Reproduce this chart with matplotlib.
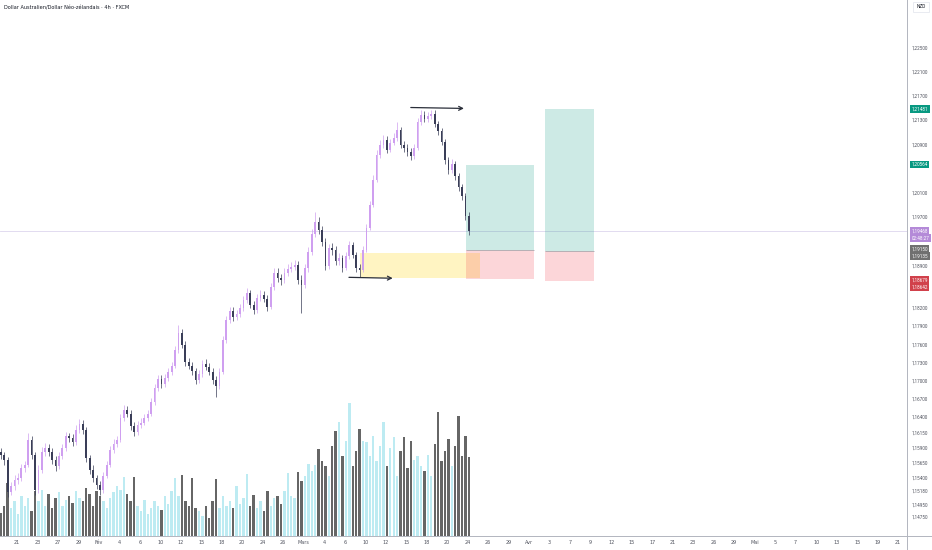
import numpy as np
import matplotlib.pyplot as plt
import matplotlib.transforms as mtransforms
from matplotlib.patches import Rectangle

# AUD/NZD 4h chart (TradingView style), candles (8h steps)
title = "Dollar Australien/Dollar Néo-zélandais · 4h · FXCM"

first_open = 1.15820
closes = [
    1.15773, 1.15690, 1.15162, 1.15261, 1.15360, 1.15393, 1.15558, 1.15608, 1.16020, 1.15773,
    1.15195, 1.15525, 1.15822, 1.15888, 1.15822, 1.15690, 1.15591, 1.15756, 1.15888, 1.16086,
    1.16053, 1.15987, 1.16185, 1.16284, 1.16185, 1.15723, 1.15525, 1.15393, 1.15278, 1.15195,
    1.15426, 1.15608, 1.15855, 1.15954, 1.16020, 1.16383, 1.16515, 1.16449, 1.16251, 1.16152,
    1.16268, 1.16301, 1.16383, 1.16449, 1.16647, 1.16878, 1.17027, 1.16944, 1.17043, 1.17142,
    1.17241, 1.17505, 1.17786, 1.17588, 1.17307, 1.17241, 1.17159, 1.17010, 1.17109, 1.17274,
    1.17225, 1.17142, 1.17010, 1.16911, 1.17142, 1.17670, 1.18000, 1.18149, 1.18050, 1.18099,
    1.18198, 1.18330, 1.18446, 1.18248, 1.18165, 1.18363, 1.18413, 1.18347, 1.18215, 1.18545,
    1.18776, 1.18693, 1.18660, 1.18776, 1.18842, 1.18875, 1.18908, 1.18660, 1.18578, 1.18858,
    1.19122, 1.19419, 1.19617, 1.19485, 1.19287, 1.18891, 1.19188, 1.19155, 1.18974, 1.19023,
    1.18858, 1.19056, 1.19238, 1.19073, 1.18858, 1.18825, 1.19155, 1.19518, 1.19898, 1.20310,
    1.20723, 1.20888, 1.20970, 1.20805, 1.20920, 1.21003, 1.21135, 1.20888, 1.20838, 1.20772,
    1.20706, 1.20838, 1.21267, 1.21383, 1.21317, 1.21366, 1.21399, 1.21234, 1.21119, 1.20937,
    1.20640, 1.20475, 1.20574, 1.20376, 1.20195, 1.20046, 1.19716, 1.19468,
]
highs = [
    1.1588, 1.1583, 1.1574, 1.1533, 1.1544, 1.1548, 1.1563, 1.1568, 1.1614, 1.1609,
    1.1582, 1.1560, 1.1590, 1.1597, 1.1596, 1.1588, 1.1575, 1.1582, 1.1595, 1.1616,
    1.1614, 1.1612, 1.1626, 1.1637, 1.1635, 1.1624, 1.1578, 1.1560, 1.1545, 1.1534,
    1.1549, 1.1567, 1.1592, 1.1603, 1.1609, 1.1645, 1.1660, 1.1658, 1.1651, 1.1631,
    1.1634, 1.1638, 1.1645, 1.1652, 1.1671, 1.1695, 1.1710, 1.1709, 1.1711, 1.1721,
    1.1731, 1.1757, 1.1792, 1.1785, 1.1765, 1.1738, 1.1730, 1.1721, 1.1717, 1.1734,
    1.1735, 1.1729, 1.1720, 1.1707, 1.1721, 1.1773, 1.1807, 1.1822, 1.1821, 1.1817,
    1.1827, 1.1840, 1.1853, 1.1850, 1.1831, 1.1843, 1.1849, 1.1848, 1.1841, 1.1861,
    1.1885, 1.1886, 1.1876, 1.1885, 1.1892, 1.1896, 1.1899, 1.1897, 1.1874, 1.1893,
    1.1920, 1.1950, 1.1978, 1.1970, 1.1955, 1.1936, 1.1926, 1.1927, 1.1922, 1.1910,
    1.1908, 1.1912, 1.1931, 1.1929, 1.1912, 1.1893, 1.1922, 1.1958, 1.1997, 1.2040,
    1.2080, 1.2097, 1.2105, 1.2104, 1.2099, 1.2108, 1.2127, 1.2119, 1.2095, 1.2090,
    1.2084, 1.2091, 1.2133, 1.2147, 1.2145, 1.2143, 1.2146, 1.2146, 1.2129, 1.2117,
    1.2099, 1.2069, 1.2066, 1.2063, 1.2043, 1.2025, 1.2010, 1.1978,
]
lows = [
    1.1570, 1.1561, 1.1508, 1.1512, 1.1520, 1.1530, 1.1535, 1.1549, 1.1558, 1.1570,
    1.1512, 1.1514, 1.1548, 1.1576, 1.1575, 1.1563, 1.1551, 1.1554, 1.1571, 1.1584,
    1.1599, 1.1592, 1.1594, 1.1613, 1.1612, 1.1566, 1.1546, 1.1533, 1.1521, 1.1511,
    1.1515, 1.1539, 1.1557, 1.1580, 1.1590, 1.1598, 1.1634, 1.1640, 1.1619, 1.1609,
    1.1611, 1.1622, 1.1626, 1.1634, 1.1641, 1.1660, 1.1683, 1.1688, 1.1689, 1.1699,
    1.1709, 1.1720, 1.1746, 1.1754, 1.1724, 1.1719, 1.1710, 1.1695, 1.1696, 1.1706,
    1.1717, 1.1709, 1.1694, 1.1673, 1.1686, 1.1711, 1.1762, 1.1795, 1.1799, 1.1800,
    1.1805, 1.1815, 1.1828, 1.1819, 1.1810, 1.1812, 1.1831, 1.1829, 1.1815, 1.1818,
    1.1850, 1.1863, 1.1858, 1.1861, 1.1872, 1.1879, 1.1882, 1.1860, 1.1812, 1.1852,
    1.1880, 1.1907, 1.1937, 1.1942, 1.1922, 1.1882, 1.1884, 1.1908, 1.1891, 1.1890,
    1.1880, 1.1882, 1.1901, 1.1902, 1.1880, 1.1871, 1.1879, 1.1912, 1.1948, 1.1986,
    1.2027, 1.2068, 1.2083, 1.2075, 1.2077, 1.2088, 1.2096, 1.2083, 1.2078, 1.2071,
    1.2064, 1.2066, 1.2080, 1.2122, 1.2126, 1.2127, 1.2131, 1.2118, 1.2105, 1.2088,
    1.2058, 1.2041, 1.2043, 1.2031, 1.2013, 1.1998, 1.1965, 1.1940,
]
volumes = [
    23, 30, 53, 28, 35, 22, 40, 30, 38, 25, 45,
    35, 46, 30, 42, 28, 38, 44, 30, 36, 40, 33, 45,
    38, 35, 48, 42, 30, 45, 40, 35, 28, 38, 44, 50, 46, 59,
    42, 35, 59, 30, 25, 36, 22, 28, 35, 30, 26, 40, 32, 45, 58,
    40, 61, 35, 30, 58, 28, 25,
    20, 30, 18, 35, 57, 28, 40, 30,
    35, 28, 50, 32, 38, 62, 30,
    41, 28, 35, 25, 45, 30, 38, 40, 32, 45,
    63, 40, 38, 64,
    55, 60, 72, 65, 71, 87,
    75, 70, 60, 90, 105, 114,
    80, 95, 133, 70, 85, 107,
    95, 94, 80, 100, 75, 90, 114,
    70, 88, 99, 60, 85, 99,
    68, 95, 76, 80, 70, 65, 81,
    60, 92, 124, 75, 85, 97, 70,
    90, 120, 80, 100, 79,
]

date_labels = ["21", "23", "27", "29", "Fév", "4", "6", "10", "12", "15", "18", "20", "24", "26",
               "Mars", "4", "6", "10", "12", "15", "18", "20", "24", "26", "29", "Avr", "3", "7",
               "9", "12", "15", "17", "21", "23", "26", "29", "Mai", "5", "7", "10", "13", "15",
               "19", "21"]
price_ticks = [1.22500, 1.22100, 1.21700, 1.21300, 1.20900, 1.20100, 1.19700, 1.18900,
               1.18200, 1.17900, 1.17600, 1.17300, 1.17000, 1.16700, 1.16400, 1.16150,
               1.15900, 1.15650, 1.15400, 1.15180, 1.14950, 1.14750]

current_price = 1.19468
countdown = "02:48:27"
zone_top, zone_bottom = 1.19100, 1.18693
entry_1, target_1, stop_1 = 1.19150, 1.20564, 1.18679
entry_2, target_2, stop_2 = 1.19135, 1.21481, 1.18642
swing_high, swing_low = 1.21506, 1.18704

assert len(closes) == len(highs) == len(lows) == len(volumes)

opens = [first_open] + closes[:-1]
idx = np.arange(len(closes)) * 2 + 0.5
up = np.array(closes) >= np.array(opens)

bull_c, bear_c = "#cf9ff0", "#3a3e58"
vol_bull, vol_bear = "#bdebf2", "#666666"
axis_font = "Roboto"

fig = plt.figure(figsize=(9.32, 5.5), dpi=100)
rect = [0, 14 / 550, 907 / 932, 536 / 550]
ax_vol = fig.add_axes(rect)
ax = fig.add_axes(rect, sharex=ax_vol)
ax.set_facecolor("none")

# volume overlay
ax_vol.bar(idx, volumes, width=1.4, color=[vol_bull if u else vol_bear for u in up], linewidth=0)
ax_vol.set_ylim(0, 536)
ax_vol.set_yticks([])

# candles
for x, o, h, l, c, u in zip(idx, opens, highs, lows, closes, up):
    col = bull_c if u else bear_c
    ax.vlines(x, l, h, color=col, linewidth=0.5, zorder=3)
    ax.add_patch(Rectangle((x - 0.5, min(o, c)), 1.0, max(abs(c - o), 0.00004),
                           facecolor=col, edgecolor="none", zorder=3))

# rectangles / position tools
teal, pink = (8 / 255, 153 / 255, 129 / 255, 0.2), (242 / 255, 54 / 255, 69 / 255, 0.2)
ax.add_patch(Rectangle((210.8, zone_bottom), 281 - 210.8, zone_top - zone_bottom,
                       facecolor="#fff4c2", edgecolor="none", zorder=1))
for x0, x1, en, tp, sl in [(272.8, 312.6, entry_1, target_1, stop_1),
                           (319.1, 347.8, entry_2, target_2, stop_2)]:
    ax.add_patch(Rectangle((x0, en), x1 - x0, tp - en, facecolor=teal, edgecolor="none", zorder=2))
    ax.add_patch(Rectangle((x0, sl), x1 - x0, en - sl, facecolor=pink, edgecolor="none", zorder=2))
    ax.hlines(en, x0, x1, color="#9aa0a6", linewidth=0.5, zorder=2)

# current price line
ax.axhline(current_price, color="#ddd6ee", linewidth=0.6, zorder=0.5)

# arrows
for xa, xb, lvl in [(240.5, 271.6, swing_high), (204.3, 229.9, swing_low)]:
    ax.annotate("", xy=(xb, lvl - 0.00015), xytext=(xa, lvl),
                arrowprops=dict(arrowstyle="->", color="#2a2e39", lw=0.9,
                                shrinkA=0, shrinkB=0, mutation_scale=7), zorder=4)

ax.set_xlim(0, 531)
ax.set_ylim(1.2328 - 0.000165 * 536, 1.2328)

ax.yaxis.tick_right()
ax.set_yticks(price_ticks)
ax.set_yticklabels([f"{p:.5f}".replace(".", ",") for p in price_ticks], family=axis_font)
ax.tick_params(axis="y", length=0, pad=3, labelsize=3.3, labelcolor="#50535e")
ax.set_xticks(9.8 + 12 * np.arange(len(date_labels)))
ax.set_xticklabels(date_labels, family=axis_font)
ax_vol.tick_params(axis="x", length=0, pad=3, labelsize=3.5, labelcolor="#50535e")
ax.tick_params(axis="x", length=0, labelbottom=False)
for a in (ax, ax_vol):
    for s in a.spines.values():
        s.set_visible(False)

# axis border lines
fig.add_artist(plt.Line2D([907 / 932, 907 / 932], [0, 1], color="#b2b5be", linewidth=0.7))
fig.add_artist(plt.Line2D([0, 1], [14 / 550, 14 / 550], color="#b2b5be", linewidth=0.7))

# price badges on the right scale (second badge of each pair stacked just below)
step = 0.00118
blend = mtransforms.blended_transform_factory(ax.transAxes, ax.transData)
badges = [(target_2, target_2, "#089981"), (target_1, target_1, "#089981"),
          (current_price, current_price, "#b48ad8"),
          (entry_1, entry_1 + 0.0002, "#707070"), (entry_2, entry_1 + 0.0002 - step, "#707070"),
          (stop_1, stop_1 - 0.0002, "#d1414b"), (stop_2, stop_1 - 0.0002 - step, "#d1414b")]
for val, ypos, col in badges:
    ax.text(1.005, ypos, f"{val:.5f}".replace(".", ","), transform=blend, fontsize=3.3,
            family=axis_font, color="white", ha="left", va="center", clip_on=False,
            bbox=dict(boxstyle="square,pad=0.3", fc=col, ec="none"))
ax.text(1.005, current_price - step, countdown, transform=blend, fontsize=3.3, family=axis_font,
        color="white", ha="left", va="center", clip_on=False,
        bbox=dict(boxstyle="square,pad=0.3", fc="#b48ad8", ec="none"))

fig.text(4 / 932, 1 - 8 / 550, title, fontsize=3.6, color="#131722", va="center")
fig.text(921 / 932, 1 - 7 / 550, "NZD", fontsize=3.4, family=axis_font, color="#131722",
         ha="center", va="center",
         bbox=dict(boxstyle="square,pad=0.6", fc="white", ec="#e0e3eb", lw=0.5))

fig.savefig("out.png", dpi=100, facecolor="white")
